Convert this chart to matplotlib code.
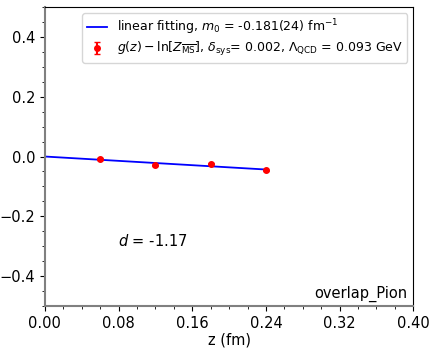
import numpy as np
import matplotlib.pyplot as plt
from matplotlib.ticker import MultipleLocator

# data
z = [0.06, 0.12, 0.18, 0.24]
g = [-0.008, -0.030, -0.024, -0.046]
g_err = [0.002, 0.002, 0.002, 0.002]
m0 = -0.181
z_fit = [0.0, 0.24]

fig = plt.figure(figsize=(4.36, 3.49), dpi=100)
ax = fig.add_axes([0.103, 0.123, 0.845, 0.857])

ax.plot(z_fit, [m0 * v for v in z_fit], color='b', lw=1.3,
        label=r'linear fitting, $m_0$ = -0.181(24) fm$^{-1}$')
ax.errorbar(z, g, yerr=g_err, fmt='o', color='r', ms=4, capsize=2,
            label=r'$g(z)-\ln[Z_{\overline{\rm MS}}]$, $\delta_{\rm sys}$= 0.002, $\Lambda_{\rm QCD}$ = 0.093 GeV')

ax.set_xlim(0, 0.4)
ax.set_ylim(-0.5, 0.5)
ax.set_xticks([0.0, 0.08, 0.16, 0.24, 0.32, 0.40])
ax.set_yticks([-0.4, -0.2, 0.0, 0.2, 0.4])
ax.xaxis.set_minor_locator(MultipleLocator(0.02))
ax.yaxis.set_minor_locator(MultipleLocator(0.05))
ax.tick_params(labelsize=10.5)
ax.set_xlabel('z (fm)', fontsize=10.5, labelpad=1)

ax.spines['left'].set_color('gray')
ax.spines['bottom'].set_color('gray')
ax.spines['left'].set_linewidth(1.5)
ax.spines['bottom'].set_linewidth(1.5)

ax.text(0.198, 0.218, r'$d$ = -1.17', transform=ax.transAxes, fontsize=10.5,
        va='center')
ax.text(0.985, 0.015, 'overlap_Pion', transform=ax.transAxes, fontsize=10.5,
        ha='right', va='bottom')

ax.legend(loc='upper right', fontsize=9, handlelength=1.6, labelspacing=0.25,
          borderpad=0.35)

fig.savefig('out.png', dpi=100)
